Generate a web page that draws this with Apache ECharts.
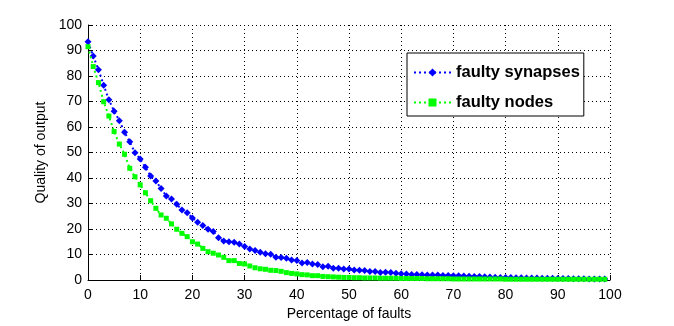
<!DOCTYPE html>
<html><head><meta charset="utf-8">
<script src="https://cdn.jsdelivr.net/npm/echarts@6/dist/echarts.min.js"></script>
<style>html,body{margin:0;padding:0;background:#fff}#c{width:674px;height:326px}</style>
</head><body><div id="c"></div>
<script>
const faults = [0,1,2,3,4,5,6,7,8,9,10,11,12,13,14,15,16,17,18,19,20,21,22,23,24,25,26,27,28,29,30,31,32,33,34,35,36,37,38,39,40,41,42,43,44,45,46,47,48,49,50,51,52,53,54,55,56,57,58,59,60,61,62,63,64,65,66,67,68,69,70,71,72,73,74,75,76,77,78,79,80,81,82,83,84,85,86,87,88,89,90,91,92,93,94,95,96,97,98,99];
const synapses = [93.4,87.8,82.5,76.4,70.7,66.2,62.5,57.9,54.2,49.9,47.5,44.2,40.8,38.8,35.9,32.9,31.8,29.7,27.5,26.4,24.3,22.6,21.4,19.9,19.0,16.6,15.3,15.0,14.8,14.1,13.1,12.2,11.6,10.9,10.3,10.1,8.9,8.8,8.5,7.8,7.6,6.7,6.9,6.3,6.1,5.2,5.4,4.6,4.6,4.3,4.3,3.9,3.8,3.7,3.3,3.3,2.9,3.0,2.9,2.6,2.5,2.4,2.2,2.2,2.1,2.0,2.0,2.0,1.8,1.8,1.7,1.7,1.6,1.5,1.4,1.4,1.3,1.2,1.1,1.0,1.0,1.0,0.9,0.9,0.8,0.8,0.8,0.7,0.7,0.7,0.6,0.6,0.6,0.5,0.5,0.5,0.4,0.4,0.4,0.4];
const nodes = [91.5,83.7,77.4,69.9,64.3,58.2,53.3,49.3,43.8,40.5,37.3,34.2,31.1,28.1,25.5,24.2,22.0,19.9,18.3,17.0,15.0,14.1,12.4,11.1,10.5,9.8,8.9,7.6,7.6,6.5,6.3,5.5,4.8,4.4,4.2,3.8,3.7,3.4,2.9,2.6,2.4,2.1,2.0,1.7,1.7,1.4,1.3,1.2,1.1,1.0,1.0,0.9,0.9,0.8,0.8,0.8,0.7,0.7,0.7,0.7,0.6,0.6,0.6,0.6,0.6,0.5,0.5,0.5,0.5,0.5,0.4,0.4,0.4,0.4,0.4,0.4,0.4,0.4,0.4,0.4,0.3,0.3,0.3,0.3,0.3,0.3,0.3,0.3,0.3,0.3,0.3,0.3,0.3,0.3,0.3,0.3,0.3,0.3,0.3,0.3];
const seriesNames = ['faulty synapses','faulty nodes'];
const xTitle = 'Percentage of faults';
const yTitle = 'Quality of output';

const chart = echarts.init(document.getElementById('c'), null, {renderer:'canvas'});
const font = 'Liberation Sans, Arial, Helvetica, sans-serif';
const axisCommon = {
  min:0, max:100, interval:10,
  axisLine:{show:true, onZero:false, lineStyle:{color:'#000', width:1}},
  axisTick:{show:true, inside:true, length:5, lineStyle:{color:'#000'}},
  splitLine:{show:true, lineStyle:{color:'#000', width:1, type:[1,3]}},
  nameTextStyle:{color:'#000', fontSize:14, fontFamily:font}
};
chart.setOption({
  animation:false,
  backgroundColor:'#fff',
  grid:{left:88, right:64, top:25, bottom:46, containLabel:false},
  xAxis:Object.assign({type:'value', name:xTitle, nameLocation:'middle', nameGap:26}, axisCommon,
    {axisLabel:{color:'#000', fontSize:14, fontFamily:font, margin:8}}),
  yAxis:Object.assign({type:'value', name:yTitle, nameLocation:'middle', nameGap:33}, axisCommon,
    {axisLabel:{color:'#000', fontSize:14, fontFamily:font, margin:6}}),
  legend:{
    show:true, orient:'vertical', left:407, top:53,
    padding:[11,4,5,6], itemGap:13, itemWidth:37, itemHeight:10,
    borderColor:'#000', borderWidth:1, backgroundColor:'#fff',
    textStyle:{color:'#000', fontSize:16.5, fontWeight:'bold', fontFamily:font},
    data:seriesNames
  },
  series:[
    {name:seriesNames[0], type:'line', data:faults.map((x,i)=>[x,synapses[i]]),
     symbol:'diamond', symbolSize:7, showSymbol:true,
     itemStyle:{color:'#0000ff'}, lineStyle:{color:'#0000ff', width:2, type:[2,3]}, z:3},
    {name:seriesNames[1], type:'line', data:faults.map((x,i)=>[x,nodes[i]]),
     symbol:'rect', symbolSize:5, showSymbol:true,
     itemStyle:{color:'#00ff00'}, lineStyle:{color:'#00ff00', width:2, type:[2,3]}, z:4}
  ]
});
</script></body></html>
